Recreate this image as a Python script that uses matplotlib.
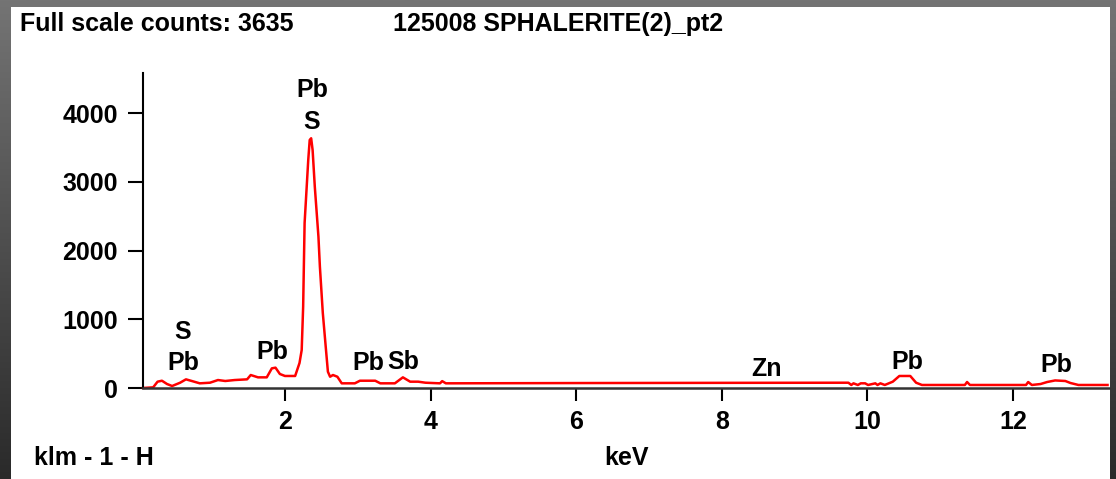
import numpy as np
import matplotlib
matplotlib.use('Agg')
import matplotlib.pyplot as plt
from matplotlib.patches import Rectangle

plt.rcParams['font.family'] = ['Liberation Sans', 'DejaVu Sans']
plt.rcParams['font.weight'] = 'bold'

# spectrum trace (keV, counts)
energy = [0.05, 0.19, 0.25, 0.31, 0.38, 0.45, 0.56, 0.64, 0.72, 0.83,
          0.97, 1.08, 1.18, 1.31, 1.48, 1.53, 1.63, 1.75, 1.82, 1.87,
          1.93, 2.00, 2.14, 2.20, 2.23, 2.25, 2.27, 2.32, 2.34, 2.36,
          2.38, 2.41, 2.46, 2.48, 2.52, 2.56, 2.59, 2.62, 2.66, 2.72,
          2.78, 2.96, 3.03, 3.24, 3.31, 3.51, 3.62, 3.72, 3.83, 3.93,
          4.13, 4.16, 4.21, 6.00, 8.00, 9.74, 9.78, 9.81, 9.87, 9.91,
          9.97, 10.01, 10.11, 10.14, 10.18, 10.24, 10.35, 10.44, 10.59, 10.67,
          10.75, 11.34, 11.37, 11.41, 12.18, 12.21, 12.26, 12.38, 12.47, 12.58,
          12.72, 12.79, 12.90, 13.30]
counts = [0, 10, 92, 106, 58, 29, 77, 126, 102, 68,
          77, 116, 102, 116, 126, 189, 155, 155, 286, 296,
          204, 175, 175, 364, 553, 1183, 2402, 3319, 3610, 3635,
          3464, 2930, 2202, 1766, 1092, 601, 237, 164, 189, 164,
          68, 68, 106, 106, 68, 68, 155, 92, 92, 77,
          68, 100, 68, 72, 75, 77, 44, 68, 44, 68,
          68, 44, 68, 44, 68, 44, 92, 175, 175, 77,
          44, 44, 87, 44, 44, 87, 44, 58, 87, 110,
          102, 73, 44, 44]

# peak labels (text, keV, counts position)
peak_text = ['Pb', 'S', 'S', 'Pb', 'Pb', 'Pb', 'Sb', 'Zn', 'Pb', 'Pb']
peak_kev = [2.37, 2.37, 0.60, 0.60, 1.83, 3.14, 3.63, 8.62, 10.55, 12.59]
peak_cnt = [4338, 3872, 815, 364, 524, 364, 378, 277, 378, 335]

xticks = [2, 4, 6, 8, 10, 12]
yticks = [0, 1000, 2000, 3000, 4000]

W, H = 1116, 479
FS = 18
fig = plt.figure(figsize=(W / 100, H / 100), dpi=100)

# dark frame + white panel
bg = fig.add_axes([0, 0, 1, 1], zorder=-10)
grad = np.linspace(0, 1, 256).reshape(-1, 1)
bg.imshow(grad, aspect='auto', cmap=matplotlib.colors.LinearSegmentedColormap.from_list(
    'frame', ['#747474', '#2a2a2a']), extent=[0, 1, 0, 1])
bg.add_patch(Rectangle((11 / W, 0), (1110 - 11) / W, (H - 7) / H, facecolor='white',
                       edgecolor='none', transform=bg.transAxes))
bg.set_xlim(0, 1)
bg.set_ylim(0, 1)
bg.axis('off')

ax = fig.add_axes([143 / W, 91 / H, 966 / W, 315 / H])
ax.patch.set_alpha(0)
ax.plot(energy, counts, color='#ff0000', lw=1.8, clip_on=False)
ax.set_xlim(0.05, 13.32)
ax.set_ylim(0, 4585)
ax.spines['top'].set_visible(False)
ax.spines['right'].set_visible(False)
ax.spines['left'].set_linewidth(1.5)
ax.spines['bottom'].set_linewidth(1.8)
ax.spines['bottom'].set_color('#333333')
ax.set_xticks(xticks)
ax.set_yticks(yticks)
ax.tick_params(axis='y', length=11, width=1.5, pad=7, labelsize=FS)
ax.tick_params(axis='x', length=9.5, width=1.5, pad=6, labelsize=FS)

for t, xk, yc in zip(peak_text, peak_kev, peak_cnt):
    ax.text(xk, yc, t, ha='center', va='center', fontsize=FS, fontweight='bold')

fig.text(20 / W, 1 - 24 / H, 'Full scale counts: 3635', ha='left', va='center',
         fontsize=FS, fontweight='bold')
fig.text(393 / W, 1 - 24 / H, '125008 SPHALERITE(2)_pt2', ha='left', va='center',
         fontsize=FS, fontweight='bold')
fig.text(34 / W, 1 - 458 / H, 'klm - 1 - H', ha='left', va='center',
         fontsize=FS, fontweight='bold')
fig.text(626 / W, 1 - 458 / H, 'keV', ha='center', va='center',
         fontsize=FS, fontweight='bold')

fig.savefig('out.png', dpi=100)
